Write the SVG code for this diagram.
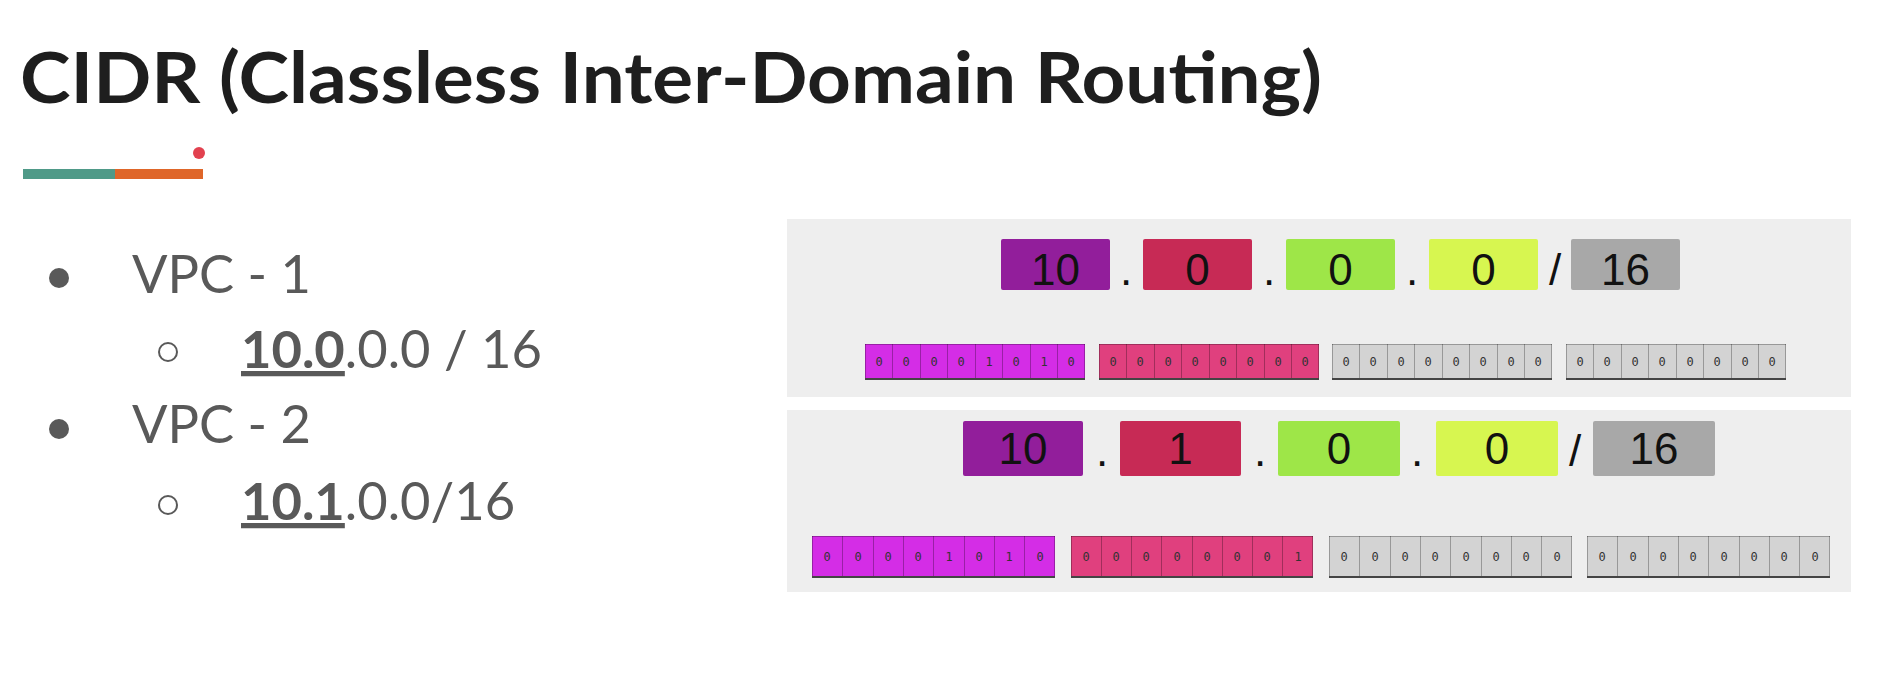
<svg xmlns="http://www.w3.org/2000/svg" width="1904" height="698" viewBox="0 0 1904 698">
<style>
.title{font-family:Lato,"Open Sans","Liberation Sans",sans-serif;font-weight:700;font-size:71px;fill:#1e1e1e}
.li{font-family:Lato,"Open Sans","Liberation Sans",sans-serif;font-size:52.5px;fill:#595959}
.b{font-weight:700;text-decoration:underline}
.panel{fill:#eeeeee}
.oct{font-family:"Liberation Sans",Arial,sans-serif;font-size:44px;fill:#111;text-anchor:middle}
.sep{font-family:"Liberation Sans",Arial,sans-serif;font-size:44px;fill:#111;text-anchor:middle}
.bit{font-family:"DejaVu Sans Mono","Liberation Mono",monospace;font-size:12px;fill:#333;text-anchor:middle}
.cell{fill:none;stroke:#000;stroke-opacity:0.28;stroke-width:1}
.edge{stroke:#444;stroke-width:2}
.mag{fill:#d42de6}
.pnk{fill:#e0407e}
.lg{fill:#d3d3d3}
</style>
<g id="title">
<text class="title" x="20" y="103" textLength="1302" lengthAdjust="spacingAndGlyphs">CIDR (Classless Inter-Domain Routing)</text>
<rect x="23" y="169" width="92" height="10" fill="#4f9a88"/>
<rect x="115" y="169" width="88" height="10" fill="#df6629"/>
<circle cx="199" cy="153" r="6" fill="#e2414f"/>
</g>
<g id="list">
<circle cx="59" cy="278" r="10" fill="#595959"/>
<text class="li" x="132" y="293">VPC - 1</text>
<circle cx="168" cy="352" r="9" fill="none" stroke="#595959" stroke-width="2"/>
<text class="li" x="241" y="368"><tspan class="b">10.0</tspan>.0.0 / 16</text>
<circle cx="59" cy="429" r="10" fill="#595959"/>
<text class="li" x="132" y="443">VPC - 2</text>
<circle cx="168" cy="505" r="9" fill="none" stroke="#595959" stroke-width="2"/>
<text class="li" x="241" y="520"><tspan class="b">10.1</tspan>.0.0/16</text>
</g>

<g id="panel1">
<rect class="panel" x="787" y="219" width="1064" height="178"/>
<g id="p1-o1"><rect x="1001" y="239" width="109" height="51" rx="2" fill="#921e9b"/><text class="oct" x="1055.5" y="285">10</text></g>
<text class="sep" x="1126" y="285">.</text>
<g id="p1-o2"><rect x="1143" y="239" width="109" height="51" rx="2" fill="#c72a55"/><text class="oct" x="1197.5" y="285">0</text></g>
<text class="sep" x="1269" y="285">.</text>
<g id="p1-o3"><rect x="1286" y="239" width="109" height="51" rx="2" fill="#9ee648"/><text class="oct" x="1340.5" y="285">0</text></g>
<text class="sep" x="1412" y="285">.</text>
<g id="p1-o4"><rect x="1429" y="239" width="109" height="51" rx="2" fill="#d7f650"/><text class="oct" x="1483.5" y="285">0</text></g>
<text class="sep" x="1555" y="285">/</text>
<g id="p1-mask"><rect x="1571" y="239" width="109" height="51" rx="2" fill="#a8a8a8"/><text class="oct" x="1625.5" y="285">16</text></g>

<g id="p1-b1">
<rect class="mag" x="865" y="344" width="220" height="35"/>
<path class="cell" d="M865.5 344V379M892.5 344V379M920.5 344V379M947.5 344V379M975.5 344V379M1002.5 344V379M1030.5 344V379M1057.5 344V379M1084.5 344V379M865 344.5H1085"/>
<line class="edge" x1="865" y1="379" x2="1085" y2="379"/>
<g class="bit"><text x="879" y="366">0</text><text x="906" y="366">0</text><text x="934" y="366">0</text><text x="961" y="366">0</text><text x="989" y="366">1</text><text x="1016" y="366">0</text><text x="1044" y="366">1</text><text x="1071" y="366">0</text></g>
</g>
<g id="p1-b2">
<rect class="pnk" x="1099" y="344" width="220" height="35"/>
<path class="cell" d="M1099.5 344V379M1126.5 344V379M1154.5 344V379M1181.5 344V379M1209.5 344V379M1236.5 344V379M1264.5 344V379M1291.5 344V379M1318.5 344V379M1099 344.5H1319"/>
<line class="edge" x1="1099" y1="379" x2="1319" y2="379"/>
<g class="bit"><text x="1113" y="366">0</text><text x="1140" y="366">0</text><text x="1168" y="366">0</text><text x="1195" y="366">0</text><text x="1223" y="366">0</text><text x="1250" y="366">0</text><text x="1278" y="366">0</text><text x="1305" y="366">0</text></g>
</g>
<g id="p1-b3">
<rect class="lg" x="1332" y="344" width="220" height="35"/>
<path class="cell" d="M1332.5 344V379M1359.5 344V379M1387.5 344V379M1414.5 344V379M1442.5 344V379M1469.5 344V379M1497.5 344V379M1524.5 344V379M1551.5 344V379M1332 344.5H1552"/>
<line class="edge" x1="1332" y1="379" x2="1552" y2="379"/>
<g class="bit"><text x="1346" y="366">0</text><text x="1373" y="366">0</text><text x="1401" y="366">0</text><text x="1428" y="366">0</text><text x="1456" y="366">0</text><text x="1483" y="366">0</text><text x="1511" y="366">0</text><text x="1538" y="366">0</text></g>
</g>
<g id="p1-b4">
<rect class="lg" x="1566" y="344" width="220" height="35"/>
<path class="cell" d="M1566.5 344V379M1593.5 344V379M1621.5 344V379M1648.5 344V379M1676.5 344V379M1703.5 344V379M1731.5 344V379M1758.5 344V379M1785.5 344V379M1566 344.5H1786"/>
<line class="edge" x1="1566" y1="379" x2="1786" y2="379"/>
<g class="bit"><text x="1580" y="366">0</text><text x="1607" y="366">0</text><text x="1635" y="366">0</text><text x="1662" y="366">0</text><text x="1690" y="366">0</text><text x="1717" y="366">0</text><text x="1745" y="366">0</text><text x="1772" y="366">0</text></g>
</g>
</g>

<g id="panel2">
<rect class="panel" x="787" y="410" width="1064" height="182"/>
<g id="p2-o1"><rect x="963" y="421" width="120" height="55" rx="2" fill="#921e9b"/><text class="oct" x="1023" y="464">10</text></g>
<text class="sep" x="1102" y="466">.</text>
<g id="p2-o2"><rect x="1120" y="421" width="121" height="55" rx="2" fill="#c72a55"/><text class="oct" x="1180.5" y="464">1</text></g>
<text class="sep" x="1260" y="466">.</text>
<g id="p2-o3"><rect x="1278" y="421" width="122" height="55" rx="2" fill="#9ee648"/><text class="oct" x="1339" y="464">0</text></g>
<text class="sep" x="1417" y="466">.</text>
<g id="p2-o4"><rect x="1436" y="421" width="122" height="55" rx="2" fill="#d7f650"/><text class="oct" x="1497" y="464">0</text></g>
<text class="sep" x="1575" y="466">/</text>
<g id="p2-mask"><rect x="1593" y="421" width="122" height="55" rx="2" fill="#a8a8a8"/><text class="oct" x="1654" y="464">16</text></g>

<g id="p2-b1">
<rect class="mag" x="812" y="536" width="243" height="41"/>
<path class="cell" d="M812.5 536V577M842.5 536V577M873.5 536V577M903.5 536V577M933.5 536V577M964.5 536V577M994.5 536V577M1024.5 536V577M1054.5 536V577M812 536.5H1055"/>
<line class="edge" x1="812" y1="577" x2="1055" y2="577"/>
<g class="bit"><text x="827" y="561">0</text><text x="858" y="561">0</text><text x="888" y="561">0</text><text x="918" y="561">0</text><text x="949" y="561">1</text><text x="979" y="561">0</text><text x="1009" y="561">1</text><text x="1040" y="561">0</text></g>
</g>
<g id="p2-b2">
<rect class="pnk" x="1071" y="536" width="242" height="41"/>
<path class="cell" d="M1071.5 536V577M1101.5 536V577M1131.5 536V577M1161.5 536V577M1192.5 536V577M1222.5 536V577M1252.5 536V577M1282.5 536V577M1312.5 536V577M1071 536.5H1313"/>
<line class="edge" x1="1071" y1="577" x2="1313" y2="577"/>
<g class="bit"><text x="1086" y="561">0</text><text x="1116" y="561">0</text><text x="1146" y="561">0</text><text x="1177" y="561">0</text><text x="1207" y="561">0</text><text x="1237" y="561">0</text><text x="1267" y="561">0</text><text x="1298" y="561">1</text></g>
</g>
<g id="p2-b3">
<rect class="lg" x="1329" y="536" width="243" height="41"/>
<path class="cell" d="M1329.5 536V577M1359.5 536V577M1390.5 536V577M1420.5 536V577M1450.5 536V577M1481.5 536V577M1511.5 536V577M1541.5 536V577M1571.5 536V577M1329 536.5H1572"/>
<line class="edge" x1="1329" y1="577" x2="1572" y2="577"/>
<g class="bit"><text x="1344" y="561">0</text><text x="1375" y="561">0</text><text x="1405" y="561">0</text><text x="1435" y="561">0</text><text x="1466" y="561">0</text><text x="1496" y="561">0</text><text x="1526" y="561">0</text><text x="1557" y="561">0</text></g>
</g>
<g id="p2-b4">
<rect class="lg" x="1587" y="536" width="243" height="41"/>
<path class="cell" d="M1587.5 536V577M1617.5 536V577M1648.5 536V577M1678.5 536V577M1708.5 536V577M1739.5 536V577M1769.5 536V577M1799.5 536V577M1829.5 536V577M1587 536.5H1830"/>
<line class="edge" x1="1587" y1="577" x2="1830" y2="577"/>
<g class="bit"><text x="1602" y="561">0</text><text x="1633" y="561">0</text><text x="1663" y="561">0</text><text x="1693" y="561">0</text><text x="1724" y="561">0</text><text x="1754" y="561">0</text><text x="1784" y="561">0</text><text x="1815" y="561">0</text></g>
</g>
</g>
<g id="connectors"/>
</svg>
